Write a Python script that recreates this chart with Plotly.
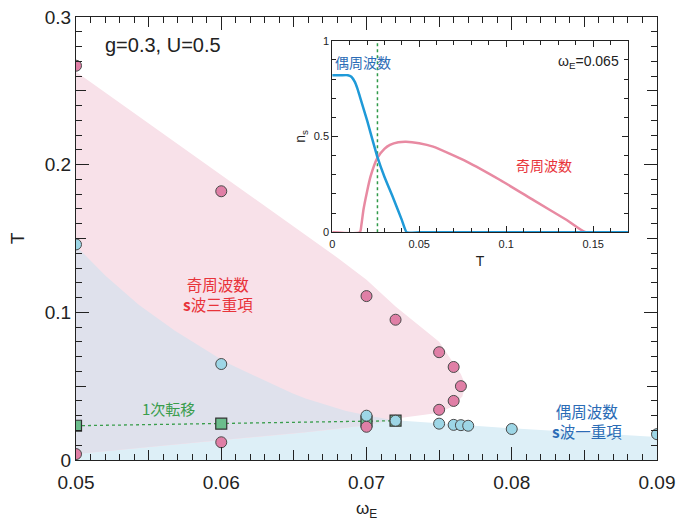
import plotly.graph_objects as go
import numpy as np

# ---------------- data ----------------
# phase boundary points (omega_E, T)
pink_w = [0.05, 0.06, 0.07, 0.072, 0.075, 0.076, 0.0765, 0.076, 0.075, 0.07, 0.06, 0.05]
pink_T = [0.267, 0.182, 0.111, 0.095, 0.073, 0.063, 0.050, 0.040, 0.034, 0.0225, 0.012, 0.004]

blue_w = [0.05, 0.06, 0.07, 0.072, 0.075, 0.076, 0.0765, 0.077, 0.08, 0.09]
blue_T = [0.146, 0.065, 0.030, 0.0266, 0.0246, 0.0238, 0.0236, 0.0232, 0.021, 0.0175]

green_w = [0.05, 0.06, 0.07, 0.072]
green_T = [0.0232, 0.0246, 0.0262, 0.0266]

# shaded regions
odd_upper_w = [0.05, 0.06, 0.068, 0.07, 0.072, 0.075, 0.0758, 0.0765, 0.0768]
odd_upper_T = [0.263, 0.193, 0.137, 0.122, 0.104, 0.080, 0.068, 0.058, 0.051]
odd_lower_w = [0.05, 0.055, 0.06, 0.065, 0.068, 0.070, 0.0715, 0.0723, 0.0749, 0.0759, 0.0766, 0.0768]
odd_lower_T = [0.004, 0.009, 0.0135, 0.018, 0.021, 0.0235, 0.0265, 0.0284, 0.0318, 0.036, 0.043, 0.051]

even_top_w = [0.05, 0.0516, 0.0539, 0.0562, 0.06, 0.0631, 0.0654, 0.0681, 0.07, 0.072, 0.08, 0.09]
even_top_T = [0.145, 0.1286, 0.1083, 0.0914, 0.0677, 0.053, 0.0429, 0.0343, 0.030, 0.027, 0.0215, 0.0155]

# inset curves n_s(T) at omega_E = 0.065
inset_T_even = [0, 0.005, 0.009, 0.011, 0.013, 0.0145, 0.0159, 0.020, 0.0259, 0.030, 0.0351, 0.040, 0.0428, 0.05, 0.1, 0.17]
inset_n_even = [0.82, 0.82, 0.82, 0.812, 0.785, 0.75, 0.708, 0.585, 0.395, 0.29, 0.178, 0.065, 0.0, 0.0, 0.0, 0.0]
inset_T_odd = [0, 0.0159, 0.0168, 0.018, 0.0198, 0.022, 0.0259, 0.030, 0.0332, 0.0380, 0.0424, 0.050, 0.058, 0.0773, 0.0965, 0.1157, 0.1348, 0.1457, 0.17]
inset_n_odd = [0.0, 0.0, 0.04, 0.12, 0.203, 0.29, 0.387, 0.435, 0.456, 0.470, 0.473, 0.465, 0.447, 0.369, 0.273, 0.168, 0.064, 0.0, 0.0]
inset_first_order_T = 0.026

# ---------------- styling ----------------
FONT = "Liberation Sans, Arial, Noto Sans CJK JP, sans-serif"
CJK = "Noto Sans CJK JP, Liberation Sans, sans-serif"
PINK_FILL = "#f8e1e9"
BLUE_FILL = "#ddeff7"
LAV_FILL = "#dfe1ec"
PINK_MK = "#e07fa6"
BLUE_MK = "#9dd6e6"
GREEN_MK = "#6bbd8c"
EDGE = "#4a4a4a"

fig = go.Figure()

# even-frequency region (from T=0 up to its boundary)
fig.add_trace(go.Scatter(
    x=even_top_w + [even_top_w[-1], even_top_w[0]],
    y=even_top_T + [0, 0],
    fill="toself", fillcolor=BLUE_FILL, mode="lines", line=dict(width=0),
    hoverinfo="skip", showlegend=False))

# odd-frequency region
fig.add_trace(go.Scatter(
    x=odd_upper_w + odd_lower_w[::-1],
    y=odd_upper_T + odd_lower_T[::-1],
    fill="toself", fillcolor=PINK_FILL, mode="lines", line=dict(width=0),
    hoverinfo="skip", showlegend=False))

# overlap (coexistence) region
grid = np.linspace(0.05, 0.0768, 400)
top_i = np.interp(grid, even_top_w, even_top_T)
low_i = np.interp(grid, odd_lower_w, odd_lower_T)
mask = top_i > low_i
gw = grid[mask]
fig.add_trace(go.Scatter(
    x=list(gw) + list(gw[::-1]),
    y=list(top_i[mask]) + list(low_i[mask][::-1]),
    fill="toself", fillcolor=LAV_FILL, mode="lines", line=dict(width=0),
    hoverinfo="skip", showlegend=False))

# first-order transition line + squares
fig.add_trace(go.Scatter(
    x=green_w, y=green_T, mode="lines+markers",
    line=dict(color="#3a9d4c", width=1.3, dash="dot"),
    marker=dict(symbol="square", size=11, color=GREEN_MK, line=dict(color="#333333", width=1.2)),
    hoverinfo="skip", showlegend=False))

fig.add_trace(go.Scatter(
    x=pink_w, y=pink_T, mode="markers",
    marker=dict(size=11, color=PINK_MK, line=dict(color=EDGE, width=1)),
    hoverinfo="skip", showlegend=False))

fig.add_trace(go.Scatter(
    x=blue_w, y=blue_T, mode="markers",
    marker=dict(size=11, color=BLUE_MK, line=dict(color=EDGE, width=1)),
    hoverinfo="skip", showlegend=False))

# inset traces
fig.add_trace(go.Scatter(
    x=[inset_first_order_T, inset_first_order_T], y=[0, 1], mode="lines",
    line=dict(color="#2f9a48", width=1.5, dash="dot"),
    xaxis="x2", yaxis="y2", hoverinfo="skip", showlegend=False))
fig.add_trace(go.Scatter(
    x=inset_T_odd, y=inset_n_odd, mode="lines", line=dict(color="#e88aa2", width=2.5, shape="spline", smoothing=0.5),
    xaxis="x2", yaxis="y2", hoverinfo="skip", showlegend=False))
fig.add_trace(go.Scatter(
    x=inset_T_even, y=inset_n_even, mode="lines", line=dict(color="#1f9ad8", width=2.5, shape="spline", smoothing=0.4),
    xaxis="x2", yaxis="y2", hoverinfo="skip", showlegend=False))

axis_common = dict(showline=True, linecolor="#222222", linewidth=1.3, mirror="allticks",
                   ticks="inside", tickcolor="#222222", showgrid=False, zeroline=False,
                   automargin=False)

fig.update_layout(
    width=678, height=524,
    margin=dict(l=76, r=21, t=17, b=64, autoexpand=False),
    paper_bgcolor="white", plot_bgcolor="white",
    font=dict(family=FONT, color="#222222"),
    xaxis=dict(range=[0.05, 0.09], tickvals=[0.05, 0.06, 0.07, 0.08, 0.09],
               ticktext=["0.05", "0.06", "0.07", "0.08", "0.09"],
               ticklen=13, tickwidth=1.2, tickfont=dict(size=19), ticklabelstandoff=5,
               minor=dict(dtick=0.001, ticklen=6, ticks="inside", tickcolor="#222222", tickwidth=1),
               title=dict(text="ω<sub>E</sub>", font=dict(size=17), standoff=10),
               **axis_common),
    yaxis=dict(range=[0, 0.3], tickvals=[0, 0.1, 0.2, 0.3], ticktext=["0", "0.1", "0.2", "0.3"],
               ticklen=13, tickwidth=1.2, tickfont=dict(size=19),
               minor=dict(dtick=0.01, ticklen=6, ticks="inside", tickcolor="#222222", tickwidth=1),
               title=dict(text="T", font=dict(size=19), standoff=14),
               **axis_common),
    xaxis3=dict(range=[0.05, 0.09], overlaying="x", tickvals=[0.055, 0.065, 0.075, 0.085],
                showticklabels=False, ticks="inside", ticklen=10, tickcolor="#222222",
                mirror="ticks", showline=False, showgrid=False, zeroline=False, automargin=False),
    yaxis3=dict(range=[0, 0.3], overlaying="y", tickvals=[0.05, 0.15, 0.25],
                showticklabels=False, ticks="inside", ticklen=10, tickcolor="#222222",
                mirror="ticks", showline=False, showgrid=False, zeroline=False, automargin=False),
    xaxis2=dict(domain=[0.441, 0.950], anchor="y2", range=[0, 0.17],
                tickvals=[0, 0.05, 0.1, 0.15], ticktext=["0", "0.05", "0.1", "0.15"],
                ticklen=6, tickwidth=1, tickfont=dict(size=11), ticklabelstandoff=2,
                minor=dict(dtick=0.01, ticklen=4, ticks="inside", tickcolor="#222222"),
                title=dict(text="T", font=dict(size=14), standoff=6),
                showline=True, linecolor="#222222", linewidth=1, mirror="allticks",
                ticks="inside", tickcolor="#222222", showgrid=False, zeroline=False, automargin=False),
    yaxis2=dict(domain=[0.514, 0.9465], anchor="x2", range=[0, 1],
                tickvals=[0, 0.5, 1], ticktext=["0", "0.5", "1"],
                ticklen=6, tickwidth=1, tickfont=dict(size=11),
                minor=dict(dtick=0.1, ticklen=4, ticks="inside", tickcolor="#222222"),
                title=dict(text="n<sub>s</sub>", font=dict(size=14), standoff=4),
                showline=True, linecolor="#222222", linewidth=1, mirror="allticks",
                ticks="inside", tickcolor="#222222", showgrid=False, zeroline=False, automargin=False),
)

# dummy trace to activate overlay tick axes
fig.add_trace(go.Scatter(x=[None], y=[None], xaxis="x3", yaxis="y3", showlegend=False, hoverinfo="skip"))

ann = [
    dict(x=0.05186, y=0.281, xref="x", yref="y", text="g=0.3, U=0.5", font=dict(size=20, family=FONT, color="#222222"),
         showarrow=False, xanchor="left", yanchor="middle"),
    dict(x=0.0598, y=0.1125, xref="x", yref="y", text="奇周波数<br><b>s</b>波三重項", font=dict(size=15.5, family=CJK, color="#e8333a"),
         showarrow=False, xanchor="center", yanchor="middle", align="center"),
    dict(x=0.0564, y=0.0346, xref="x", yref="y", text="1次転移", font=dict(size=15, family=CJK, color="#3a9d4c"),
         showarrow=False, xanchor="center", yanchor="middle"),
    dict(x=0.0852, y=0.0262, xref="x", yref="y", text="偶周波数<br><b>s</b>波一重項", font=dict(size=15.5, family=CJK, color="#2b6cb6"),
         showarrow=False, xanchor="center", yanchor="middle", align="center"),
    dict(x=0.0002, y=0.89, xref="x2", yref="y2", text="偶周波数", font=dict(size=14, family=CJK, color="#2b6cb6"),
         showarrow=False, xanchor="left", yanchor="middle"),
    dict(x=0.166, y=0.89, xref="x2", yref="y2", text="ω<sub>E</sub>=0.065", font=dict(size=14, family=FONT, color="#222222"),
         showarrow=False, xanchor="right", yanchor="middle"),
    dict(x=0.122, y=0.35, xref="x2", yref="y2", text="奇周波数", font=dict(size=14, family=CJK, color="#e8333a"),
         showarrow=False, xanchor="center", yanchor="middle"),
]
fig.update_layout(annotations=ann)

fig.write_html("out.html", config={"displayModeBar": False},
               post_script="document.body.style.margin='0';")
